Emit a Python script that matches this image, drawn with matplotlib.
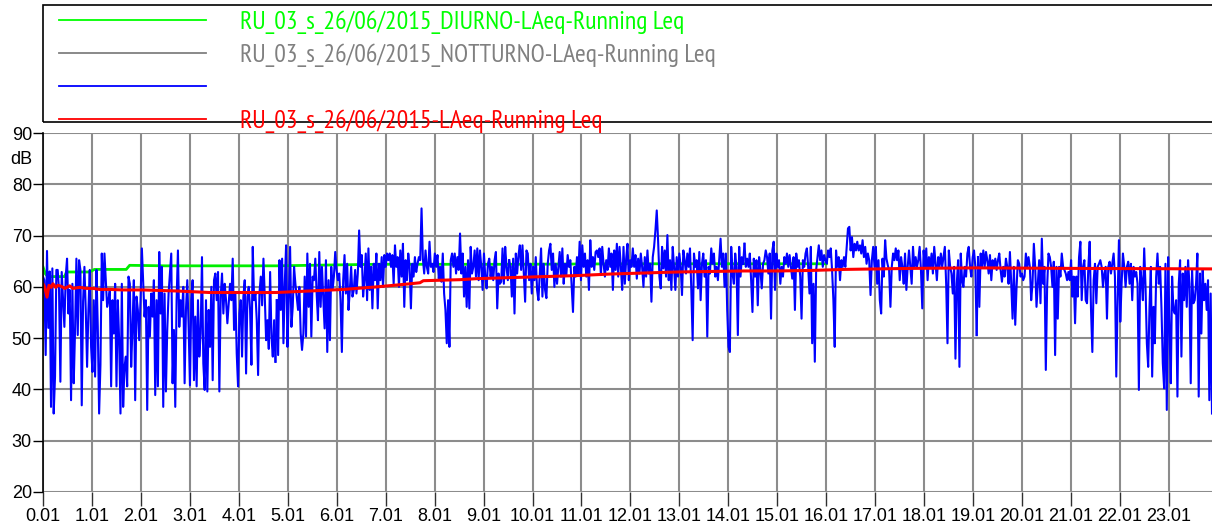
import numpy as np
import matplotlib
matplotlib.use("Agg")
import matplotlib.pyplot as plt
from matplotlib import font_manager
from matplotlib.lines import Line2D
from matplotlib.patches import Rectangle

plt.rcParams["font.family"] = ["Liberation Sans", "DejaVu Sans"]

# per la legenda cerco un font stretto (Narrow / Condensed)
narrow = None
for f in font_manager.fontManager.ttflist:
    nome = (f.name + " " + f.fname).lower()
    if f.style != "normal" or f.weight not in (400, "normal", "regular"):
        continue
    if "narrow" in nome and "sans" in nome:
        narrow = f.fname
        break
if narrow is None:
    for f in font_manager.fontManager.ttflist:
        nome = (f.name + " " + f.fname).lower()
        if f.style == "normal" and f.weight in (400, "normal", "regular") and "condensed" in nome \
                and "sans" in nome and "mono" not in nome and "bold" not in nome and "semi" not in nome:
            narrow = f.fname
            break

if narrow:
    FP_LEG = font_manager.FontProperties(fname=narrow)
    LEG_SIZE = 18.5
else:
    FP_LEG = font_manager.FontProperties(family="Liberation Sans")
    LEG_SIZE = 14.5
TICK_SIZE = 13

# --- dati (ore dall'inizio, dB) ---
legend_labels = ["RU_03_s_26/06/2015_DIURNO-LAeq-Running Leq",
                 "RU_03_s_26/06/2015_NOTTURNO-LAeq-Running Leq",
                 "",
                 "RU_03_s_26/06/2015-LAeq-Running Leq"]
legend_colors = ["#00ff00", "#808080", "#0000ff", "#ff0000"]

x_ticks = list(range(24))
x_labels = ["%d.01" % h for h in x_ticks]
y_ticks = [20, 30, 40, 50, 60, 70, 80, 90]

# limiti dei tratti di misura (ore)
seg_edges = [0.0, 4.776, 9.55, 14.33, 19.1, 23.88]

blue_00_05 = [62, 61.3, 46.7, 67, 52, 63, 36.6, 63.6, 35.3, 42.5, 63.3, 63.3, 59.4, 41.5, 62.9, 57.4,
              52.2, 62, 65.5, 54.8, 59.4, 37.9, 60.6, 41.2, 51.6, 65.5, 50.6, 65.2, 63.3, 36.9, 57.1,
              63.9, 55.5, 44.4, 55.5, 63.3, 48.3, 43.4, 57.4, 42.5, 63.3, 52.2, 35.3, 44.8, 66.5, 57.4,
              66.5, 61.3, 56.1, 57.4, 59.4, 40.6, 57.4, 50.9, 60.6, 40.6, 57.4, 49.6, 35.3, 60.6, 36.6,
              44.4, 46.4, 40.6, 62, 60.6, 44.4, 52.2, 61.3, 37.9, 58.1, 55.5, 49.6, 57.4, 67.5, 60.6,
              54.2, 57.4, 36, 56.1, 50.3, 58.7, 54.2, 61.3, 38.9, 57.4, 40.6, 66.8, 54.8, 63.9, 36.6,
              58.7, 39.6, 51.6, 58.7, 62.6, 66.5, 41.2, 51.6, 36.6, 57.4, 67.1, 52.2, 57.4, 54.2, 60,
              41.2, 55.5, 61.3, 52.2, 40.8, 57.4, 61.3, 41.8, 54.2, 40.6, 57.4, 46.4, 50.9, 65.8, 45.1,
              39.9, 57.4, 39.6, 55.5, 48.3, 60, 41.8, 61.3, 62.6, 57.4, 62.9, 39.6, 58.1, 62.6, 54.8,
              60.6, 57.4, 52.9, 56.8, 60.6, 57.4, 65.5, 51.6, 58.7, 47, 40.6, 54.8, 57.4, 46.4, 58.1,
              61.3, 43.1, 58.1, 60, 55.5, 44.8, 67.8, 57.4, 58.7, 53.5, 42.8, 58.7, 62, 56.4, 65.5,
              58.1, 49.6, 53.5, 47.9, 62.9, 50.3, 46.4, 53.5, 45.4]

blue_05_10 = [57.4, 46.7, 65.2, 55.5, 65.5, 49, 60.6, 68.1, 48.3, 57.4, 67.8, 52.2, 56.1, 63.9, 60.6,
              58.1, 55.5, 60, 50.9, 47.7, 50.9, 62, 50.3, 66.5, 56.1, 64.5, 50.3, 62, 61.3, 65.5, 58.7,
              53.5, 66.8, 56.1, 63.9, 58.1, 51.9, 65.2, 47.3, 61.3, 49.6, 63.9, 59.4, 62, 66.8, 63.3,
              61.3, 62.6, 57.4, 47.3, 61.3, 66.2, 58.7, 64.5, 55.5, 59.4, 63.9, 58.1, 59.4, 63.3, 58.7,
              62.6, 71, 63.9, 66.2, 58.1, 61.3, 66.5, 57.4, 67.5, 59.4, 63.9, 55.8, 64.5, 61.3, 66.5,
              55.8, 64.5, 61.3, 65.8, 60, 66.2, 63.9, 66.5, 65.2, 66.5, 63.9, 66.2, 60.6, 68.1, 63.9,
              65.8, 60, 67.1, 62, 68.4, 56.1, 65.2, 61.3, 66.5, 63.9, 55.8, 64.5, 62, 65.8, 62.9, 64.5,
              65.8, 65.2, 75.3, 65.5, 62.6, 67.1, 63.9, 62.6, 68.8, 63.9, 64.5, 62.9, 66.5, 63.9, 66.2,
              61.6, 63.9, 61, 66.5, 58.7, 55.5, 49, 57.4, 48.3, 65.2, 66.5, 63.9, 66.5, 62.6, 65.8,
              63.3, 70.4, 62.6, 66.5, 58.1, 63.9, 56.1, 65.2, 55.8, 67.8, 62.6, 63.9, 67.1, 62, 67.5,
              61.3, 67.1, 63.9, 59.4, 66.5, 62, 59.7, 64.5, 65.5, 62, 63.9, 61.3, 65.2, 66.8, 55.8,
              62.6, 60.6, 61, 67.5, 60.6, 67.8, 63.9, 61.3, 65.2]

blue_10_14 = [63.9, 58.1, 65.5, 54.8, 66.5, 62.6, 66.2, 68.1, 63.3, 68.1, 62.6, 57.1, 67.1, 66.5, 61.3,
              64.5, 58.7, 63.9, 61.3, 65.8, 59.4, 57.4, 62.6, 67.5, 58.1, 64.5, 59.4, 57.8, 64.5, 67.1,
              68.4, 63.3, 66.5, 60, 64.5, 60.6, 63.9, 66.8, 62, 67.5, 60.6, 64.5, 62.3, 66.2, 63.9,
              65.2, 60, 55.1, 63.9, 62, 65.8, 62.3, 68.8, 61.3, 68.1, 63.9, 66.5, 62, 65.2, 59.4, 69.1,
              63.9, 65.8, 63.3, 66.8, 67.1, 65.8, 67.5, 62.3, 67.8, 64.5, 62, 65.2, 63.3, 67.5, 63.9,
              66.5, 59.4, 67.1, 63.3, 68.4, 62, 67.8, 63.9, 59.4, 67.8, 60.6, 65.5, 68.4, 61.3, 65.2,
              63.9, 67.5, 63.9, 66.2, 61.6, 65.5, 62.6, 66.5, 63.9, 60, 65.8, 62, 67.1, 62.6, 64.5,
              57.1, 65.8, 67.8, 71, 74.9, 69.1, 62, 59.7, 67.8, 63.6, 67.1, 62, 70.1, 61.3, 65.2, 59.4,
              67.8, 63.9, 59.4, 65.8, 62, 66.5, 63.9, 58.4, 67.1, 65.2, 62.6, 66.5, 63.9, 67.5, 59.4,
              49.6, 66.5, 63.9, 65.2, 59.7, 66.8, 57.4, 64.5, 66.5, 62, 65.2, 50.3, 63.9, 62.6, 67.5,
              64.5, 66.5, 62, 63.9, 61.3, 65.2, 69.4, 63.9, 66.5, 60, 66.5, 55.5, 48.3, 47.3, 67.8,
              62.6, 60.6, 66.5, 63.9, 50.6, 67.8, 62, 65.8, 64.5]

blue_14_19 = [68.4, 63.9, 65.5, 63.9, 66.5, 61.3, 55.1, 65.5, 62, 65.2, 56.4, 65.8, 63.3, 59.7, 64.5,
              65.2, 67.1, 65.8, 62.6, 66.5, 53.8, 67.1, 68.8, 59.4, 66.5, 63.9, 65.2, 60.6, 63.9, 62,
              65.8, 64.5, 66.5, 63.9, 66.2, 63.9, 61.6, 65.8, 55.5, 66.5, 63.9, 65.2, 62, 53.8, 65.2,
              63.9, 66.5, 67.5, 63.9, 58.7, 67.8, 49, 60.6, 45.4, 63.3, 65.8, 68.1, 65.2, 67.1, 63.9,
              66.2, 65.2, 64.5, 67.1, 65.8, 67.5, 63.3, 57.4, 48.3, 67.1, 63.9, 65.8, 61.3, 65.2, 63.9,
              65.8, 63.9, 67.8, 71.4, 71.7, 67.1, 69.7, 65.8, 68.4, 67.1, 68.8, 67.1, 68.1, 66.5, 69.1,
              65.8, 67.8, 64.5, 66.5, 65.2, 58.4, 65.2, 67.8, 63.9, 67.8, 60.6, 65.2, 57.4, 54.8, 65.5,
              62, 69.1, 65.5, 64.2, 63.3, 56.1, 63.9, 66.5, 65.2, 67.5, 65.2, 67.1, 61.3, 65.8, 63.9,
              60.6, 66.5, 59.4, 63.9, 67.1, 63.9, 60.6, 67.8, 63.9, 65.8, 63.9, 65.2, 67.8, 63.3, 55.8,
              67.1, 63.9, 67.5, 61.3, 65.8, 63.9, 66.5, 62.6, 67.8, 64.5, 61.3, 65.8, 63.9, 66.5, 63.9,
              65.8, 67.8, 60.6, 49, 67.1, 63.9, 62.6, 58.7, 63.9, 46, 60.6, 65.2, 44.4, 66.5, 61.3, 60,
              63.9, 62, 66.5, 67.8, 63.9, 62, 65.8, 67.1, 63.9, 50.6]

blue_19_24 = [65.8, 56.1, 66.5, 63.9, 67.1, 63.9, 66.8, 65.2, 62.6, 66.2, 61.3, 65.2, 63.9, 65.5, 63.3,
              65.2, 66.5, 63.3, 61, 63.9, 62, 65.5, 63.9, 60.6, 66.8, 60.6, 53.8, 63.9, 52.6, 60, 65.2,
              64.5, 62, 62.6, 61.3, 62, 66.5, 63.9, 65.8, 63.9, 57.4, 60.6, 68.4, 63.9, 56.1, 60.6,
              65.2, 56.8, 69.4, 60.6, 63.9, 43.8, 60, 66.5, 65.8, 63.9, 60, 64.9, 46.7, 63.9, 53.8,
              63.9, 62, 66.5, 63.9, 63.3, 62.6, 61.3, 62.9, 61.3, 65.2, 58.1, 62, 52.9, 62, 58.1, 65.8,
              68.8, 57.4, 63.9, 65.2, 57.4, 56.8, 63.9, 68.8, 55.5, 47.3, 61.3, 64.5, 56.8, 63.9, 64.5,
              65.2, 63.9, 60, 62.6, 63.9, 53.8, 63.9, 64.9, 62.6, 64.5, 66.5, 62, 42.5, 57.4, 69.1,
              53.2, 60.6, 66.5, 63.9, 60, 63.9, 64.9, 60.6, 64.5, 57.4, 63.9, 62, 62.9, 60.6, 39.9,
              63.9, 61.3, 57.4, 67.5, 60, 49, 44.4, 56.1, 63.9, 42.5, 56.1, 49, 62, 66.5, 60.6, 63.9,
              55.8, 45.1, 40.2, 64.5, 36, 65.8, 52.2, 41.2, 62, 55.5, 54.8, 57.4, 38.6, 60.6, 65.2,
              46.4, 62.6, 57.4, 63.9, 56.1, 65.2, 60.6, 41.2, 63.3, 56.8, 57.4, 60.6, 66.5, 38.6, 62.6,
              50.9, 63.3, 57.4, 60.6, 55.5, 61.3, 37.9, 58.7, 35.3]

# Leq progressivo periodo diurno
green_t = [0, 0.05, 0.1, 0.44, 0.48, 0.95, 1.05, 1.7, 1.77, 2.5, 4.0, 4.78, 6.8, 9.56, 12.0, 16.0]
green_v = [63.9, 62.5, 62.0, 62.0, 62.9, 62.9, 63.4, 63.4, 64.2, 64.1, 64.1, 64.1, 64.4, 64.4, 64.5, 64.5]

# Leq progressivo su tutta la misura
red_t = [0, 0.034, 0.082, 0.122, 0.17, 0.204, 0.259, 0.306, 0.374, 0.442, 0.51, 0.544, 0.612, 0.748,
         0.884, 1.02, 1.156, 1.36, 1.63, 2.04, 2.72, 3.4, 4.08, 4.76, 5.46, 6.14, 6.82, 7.5, 7.7, 7.77,
         8.52, 8.86, 9.54, 10.23, 10.91, 11.59, 12.27, 12.95, 13.63, 14.31, 15.01, 15.69, 16.37,
         17.05, 17.73, 19.09, 21.0, 23.88]
red_v = [60.6, 60.0, 58.0, 60.3, 59.9, 60.6, 59.9, 60.3, 60.1, 59.7, 60.0, 60.2, 59.7, 59.9, 59.7,
         59.7, 59.5, 59.5, 59.4, 59.4, 59.2, 58.9, 58.9, 58.9, 59.2, 59.5, 60.0, 60.6, 60.8, 61.2,
         61.4, 61.6, 61.8, 62.0, 62.2, 62.5, 62.7, 62.9, 63.0, 63.1, 63.1, 63.2, 63.4, 63.5, 63.6,
         63.7, 63.6, 63.5]

blue_segments = [blue_00_05, blue_05_10, blue_10_14, blue_14_19, blue_19_24]

# --- figura ---
fig = plt.figure(figsize=(12.12, 5.31), dpi=100)
ax = fig.add_axes([43 / 1212, 39 / 531, 1 - 43 / 1212, 359 / 531])

for i, seg in enumerate(blue_segments):
    t = np.linspace(seg_edges[i], seg_edges[i + 1], len(seg), endpoint=(i == len(blue_segments) - 1))
    ax.plot(t, seg, color="#0000ff", lw=1.5, zorder=3)
    # collega al tratto successivo
    if i < len(blue_segments) - 1:
        ax.plot([t[-1], seg_edges[i + 1]], [seg[-1], blue_segments[i + 1][0]], color="#0000ff", lw=1.5, zorder=3)

ax.plot(green_t, green_v, color="#00ee00", lw=2.0, zorder=2)
ax.plot(red_t, red_v, color="#ff0000", lw=2.2, zorder=4)

ax.set_xlim(0, 23.88)
ax.set_ylim(20, 90)
ax.set_xticks(x_ticks)
ax.set_xticklabels(x_labels)
ax.set_yticks(y_ticks)
ax.grid(True, color="#8c8c8c", lw=1.5, zorder=0)
ax.set_axisbelow(True)
for s in ["top", "right", "bottom"]:
    ax.spines[s].set_visible(False)
ax.spines["left"].set_color("black")
ax.spines["left"].set_linewidth(1.2)
ax.spines["left"].set_zorder(5)
ax.tick_params(axis="y", direction="out", length=7, width=1, pad=1, labelsize=TICK_SIZE, colors="black")
ax.tick_params(axis="x", direction="out", length=10, width=1, pad=1.5, labelsize=TICK_SIZE, colors="black")
ax.tick_params(axis="x", color="#303030")

fig.text(32 / 1212, 1 - 160 / 531, "dB", ha="right", va="center", fontsize=TICK_SIZE)

# --- legenda disegnata a mano come nell'originale ---
fig.add_artist(Rectangle((43 / 1212, 1 - 122 / 531), 1.0, 117 / 531, transform=fig.transFigure,
                         fill=False, edgecolor="black", lw=1.2, zorder=1))
leg_y = [20, 53, 86, 119]
for lab, col, yy in zip(legend_labels, legend_colors, leg_y):
    yf = 1 - yy / 531
    fig.add_artist(Line2D([59 / 1212, 206 / 1212], [yf, yf], color=col, lw=1.3, zorder=6))
    if lab:
        fig.text(240 / 1212, yf, lab, color=col, fontproperties=FP_LEG, fontsize=LEG_SIZE,
                 ha="left", va="center_baseline", zorder=7)

fig.savefig("out.png", dpi=100)
